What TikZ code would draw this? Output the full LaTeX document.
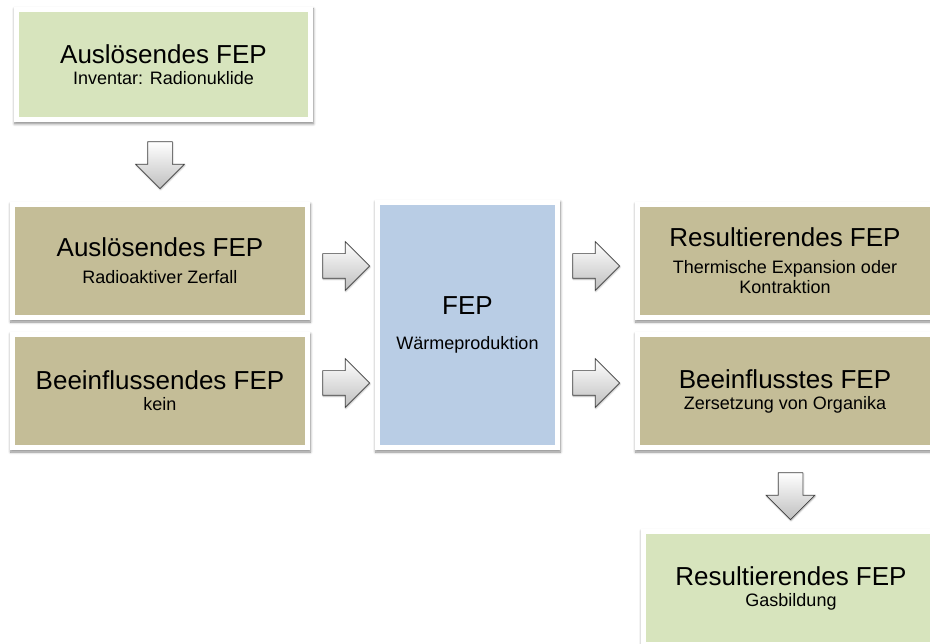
\documentclass[tikz,border=0pt]{standalone}
\usepackage{fontspec}
\setmainfont{Liberation Sans}
\usetikzlibrary{positioning,shapes.arrows,shadows.blur}
\definecolor{fepgreen}{HTML}{D7E4BD}
\definecolor{feptan}{HTML}{C4BD97}
\definecolor{fepblue}{HTML}{B9CDE5}
\newcommand{\fep}[3][0pt]{{\fontsize{26}{28}\selectfont #2}\\[#1]#3}

\begin{document}
\begin{tikzpicture}[x=1pt,y=-1pt,
	fepbox/.style={rectangle,fill=white,inner sep=0pt,minimum width=300pt,minimum height=118pt,
		align=center,font=\fontsize{18}{21}\selectfont,
		blur shadow={shadow xshift=0.5pt,shadow yshift=-2pt,shadow blur radius=2.5pt,shadow blur steps=6,shadow opacity=45},
		path picture={\fill[#1] ([shift={(5pt,-5pt)}]path picture bounding box.north west)
			rectangle ([shift={(-5pt,5pt)}]path picture bounding box.south east);}},
	blkarrow/.style={single arrow,draw=black!75,line width=0.7pt,top color=white,bottom color=black!25,
		inner sep=12pt,single arrow head extend=12pt,minimum height=47pt,
		blur shadow={shadow xshift=0.5pt,shadow yshift=-1pt,shadow blur radius=1.5pt,shadow blur steps=4,shadow opacity=35}}]
\useasboundingbox (0,0) rectangle (930,644);

\node [fepbox=fepgreen,minimum width=299pt,minimum height=115pt] (a) at (163.5,64.5) {\fep{Auslösendes FEP}{Inventar: Radionuklide}};
\node [fepbox=feptan] (b) at (160,261) {\fep[6pt]{Auslösendes FEP}{Radioaktiver Zerfall}};
\node [fepbox=feptan] (c) at (160,391) {\fep{Beeinflussendes FEP}{kein}};
\node [fepbox=fepblue,minimum width=185pt,minimum height=250pt] (w) at (467.5,325) {\fep[14pt]{FEP}{Wärmeproduktion}};
\node [fepbox=feptan] (r) at (785,261) {\fep[6pt]{Resultierendes FEP}{Thermische Expansion oder\\[-1pt]Kontraktion}};
\node [fepbox=feptan] (z) at (785,391) {\fep{Beeinflusstes FEP}{Zersetzung von Organika}};
\node [fepbox=fepgreen] (g) at (791,588) {\fep{Resultierendes FEP}{Gasbildung}};

% block arrows
\node [blkarrow,shape border rotate=270] (a-b) at (160,159) {};
\node [blkarrow] (b-w) at (340,266) {};
\node [blkarrow] (c-w) at (340,383) {};
\node [blkarrow] (w-r) at (590,266) {};
\node [blkarrow] (w-z) at (590,383) {};
\node [blkarrow,shape border rotate=270] (z-g) at (790.5,490) {};
\end{tikzpicture}
\end{document}
